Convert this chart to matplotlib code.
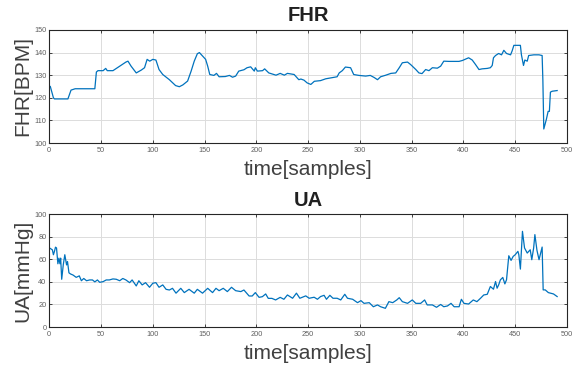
import matplotlib
matplotlib.use('Agg')
import matplotlib.pyplot as plt

plt.rcParams['font.family'] = ['Liberation Sans', 'DejaVu Sans']

# FHR trace (sample index, beats per minute)
fhr_t = [1, 4, 5, 18, 21, 25, 44, 45.5, 47, 52, 54.5, 56, 61.5, 68, 74, 76, 79, 84, 89, 92,
         94.5, 97, 100, 103, 106, 109.6, 116, 122, 125.6, 129, 133.6, 137, 140, 143, 145, 148,
         151, 153, 155, 159, 161.5, 164, 170, 174, 177, 180, 183, 188, 191, 194.5, 198, 199,
         201, 206, 208, 212, 219, 223, 227, 230, 236.5, 241, 243, 246, 249, 252.6, 256, 262,
         267, 272, 278, 280, 283, 286, 291, 294, 299, 305.6, 310, 313.7, 317, 320, 325, 330,
         334.6, 338, 341, 346, 349, 354, 357, 360, 363.5, 366.7, 370, 374.8, 378, 381, 386,
         395.7, 399, 405, 408.5, 411.7, 415, 418, 423, 426, 427.8, 429, 431, 434, 436.8, 439,
         441.6, 445.5, 447, 448.7, 455, 456, 458, 459.3, 461.6, 463, 468, 473, 476, 476.7,
         477.6, 480, 481.8, 483, 484, 485.7, 490.5]
fhr_v = [125, 120, 119.5, 119.5, 123.4, 124, 124, 131.4, 132, 132, 133, 132, 132, 134, 135.8,
         136.2, 134, 131, 132.3, 133.3, 137, 136.2, 137, 136.7, 132.5, 130.3, 128, 125.4, 124.9,
         125.7, 127.4, 131.8, 136.2, 139.5, 140, 138.5, 137, 134, 130.3, 129.9, 130.8, 129.3,
         129.4, 129.9, 129.1, 129.6, 131.8, 132.4, 133.3, 133.7, 131.8, 133.3, 131.8, 132, 132.8,
         131, 130, 130.8, 130, 130.8, 130.3, 128, 128.3, 127.8, 126.6, 125.9, 127.3, 127.6,
         128.4, 128.8, 129.3, 131, 132, 133.6, 133.3, 130.3, 129.9, 129.6, 129.9, 129, 128,
         129.3, 130, 130.8, 131, 133.3, 135.5, 135.8, 134.7, 132.5, 131, 130.7, 132.5, 132,
         133.3, 133.1, 134, 136.2, 136.1, 136.1, 136.5, 137.7, 136.7, 134.7, 132.5, 132.8, 133,
         133.3, 134.3, 137.7, 138.7, 139.6, 139, 141, 139.6, 139, 140.7, 143.2, 143.2, 139,
         134.3, 136.7, 136.2, 138.7, 139, 139, 138.7, 128, 106.2, 110.3, 114, 114, 122.5, 122.9,
         123.2]

# UA trace (sample index, mmHg)
ua_t = [0.6, 3, 4, 5, 6, 7, 8.3, 9.3, 10.3, 11, 12, 13.5, 15, 16.7, 17.6, 19, 20.5, 23, 26, 29,
        31, 33.3, 36, 39, 41.7, 44, 46.5, 48.7, 52, 55, 58, 61.5, 64.7, 68, 71, 74, 77.6, 80, 84,
        86.5, 89.7, 93, 96.8, 100, 103, 106, 109.6, 112.8, 116, 119, 122.4, 127, 130.4, 135, 140,
        143, 148, 153, 157.7, 161, 164, 168, 172, 176, 180, 185, 188, 193, 196, 199, 202.6,
        205.8, 209, 211.5, 215, 218.6, 223, 226.6, 230, 235, 238.7, 242, 247.7, 251, 255.8, 259,
        262, 265.4, 267.7, 271, 274, 278, 281.5, 285.4, 288, 293, 297.7, 301, 304, 309, 313,
        317, 320, 324.6, 328, 331.7, 335.6, 338, 341, 346, 350.6, 354, 358.7, 362.5, 365, 370,
        374, 378, 381, 384.6, 388, 391, 395.8, 398, 400.5, 405, 409.5, 413, 416.5, 419.6, 423,
        426, 429, 431, 432.5, 434, 435.7, 438, 440, 441.6, 443.8, 446, 448, 450, 452.6, 453.5,
        455, 457, 459, 461.6, 464.5, 466, 467.8, 469, 471, 473, 476, 477, 479, 482, 487, 490.5]
ua_v = [69.8, 68.3, 64, 67, 70.7, 70, 56, 61, 56, 61, 42.3, 55, 64, 55, 58, 48, 47, 46, 44,
        45.3, 41, 43, 41, 41.7, 41.7, 40, 41.7, 39.6, 40.2, 41.7, 41.7, 42.6, 42.3, 41, 43, 41.7,
        39.3, 41.7, 36.4, 41, 37.3, 39.3, 35.2, 38.8, 39.3, 35.2, 37.3, 33.4, 32.8, 34.3, 30,
        34.3, 30.5, 33.4, 30, 33.4, 30, 34.3, 30.5, 34.3, 32.2, 34.3, 31.4, 35.2, 32.2, 31.4,
        32.8, 27.5, 27.5, 30.5, 26.3, 26.9, 29.3, 25.4, 25.4, 24, 26.3, 24.6, 28.4, 25.5, 30,
        25.5, 27.6, 25.5, 26.4, 24.6, 27, 28.1, 24.6, 28.1, 25.5, 25.5, 24, 29, 25.5, 24.6, 21.6,
        23.4, 21, 21.6, 18, 19.6, 18, 16.6, 22.5, 21.6, 24, 26, 22.5, 21, 24, 21, 21, 24, 19.6,
        19.6, 17.5, 20, 18, 18.7, 21, 18, 18, 24.6, 21, 20.4, 24, 22.5, 25.5, 28.4, 29, 35.9,
        33.5, 40.3, 34.4, 37.3, 41.8, 43.9, 38.2, 41.8, 63.1, 59, 62.5, 64, 67, 64, 51.3, 84.7,
        70, 65.5, 68.4, 59.6, 70, 81.8, 67.9, 59.6, 70.8, 32.9, 32.9, 30.5, 29.3, 27]

fhr_ticks = [100, 110, 120, 130, 140, 150]
ua_ticks = [0, 20, 40, 60, 80, 100]
x_ticks = [0, 50, 100, 150, 200, 250, 300, 350, 400, 450, 500]

line_color = '#0072BD'
dark = '#262626'


def style_axes(ax, yticks):
    ax.set_xlim(0, 500)
    ax.set_xticks(x_ticks)
    ax.set_yticks(yticks)
    ax.set_ylim(yticks[0], yticks[-1])
    ax.grid(True, color='#dcdcdc', linewidth=0.7)
    ax.set_axisbelow(True)
    for s in ax.spines.values():
        s.set_color(dark)
        s.set_linewidth(0.8)
    ax.tick_params(direction='in', length=2.5, width=0.6, color=dark,
                   labelsize=5.3, labelcolor='#606060', top=True, right=True)
    ax.tick_params(axis='x', pad=3)
    ax.tick_params(axis='y', pad=2)


fig = plt.figure(figsize=(5.73, 3.70), dpi=100)
ax1 = fig.add_axes([0.086, 0.6135, 0.9035, 0.3055])
ax2 = fig.add_axes([0.086, 0.116, 0.9035, 0.3055])

ax1.plot(fhr_t, fhr_v, color=line_color, linewidth=0.9)
style_axes(ax1, fhr_ticks)
ax1.set_title('FHR', fontsize=14.5, fontweight='bold', color='#202020', pad=6.5)
ax1.set_xlabel('time[samples]', fontsize=15, color='#404040', labelpad=4)
ax1.set_ylabel('FHR[BPM]', fontsize=15, color='#404040', labelpad=1)

ax2.plot(ua_t, ua_v, color=line_color, linewidth=0.9)
style_axes(ax2, ua_ticks)
ax2.set_title('UA', fontsize=14.5, fontweight='bold', color='#202020', pad=6)
ax2.set_xlabel('time[samples]', fontsize=15, color='#404040', labelpad=4)
ax2.set_ylabel('UA[mmHg]', fontsize=15, color='#404040', labelpad=1)

fig.savefig('out.png', dpi=100)
